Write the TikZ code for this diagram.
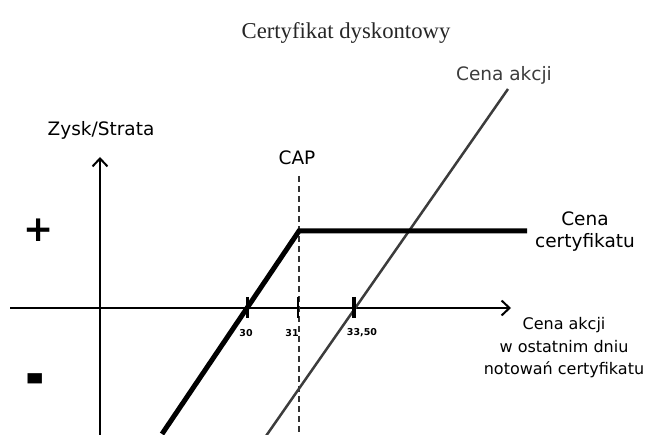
\documentclass[tikz,border=0pt]{standalone}
\usepackage{fontspec}
\usepackage{graphicx}
\setmainfont{Liberation Serif}
\newfontfamily\lab{DejaVu Sans}
\usetikzlibrary{arrows.meta}
\definecolor{stockgray}{HTML}{3C3C3C}
\begin{document}
\begin{tikzpicture}[x=1pt,y=-1pt,
  txt/.style={font=\lab\fontsize{18.5}{22}\selectfont, inner sep=0pt, align=center},
  small/.style={font=\lab\fontsize{16}{22.5}\selectfont, inner sep=0pt, align=center},
  ticklab/.style={font=\lab\bfseries\fontsize{9.5}{12}\selectfont, inner sep=0pt},
  sign/.style={font=\lab\bfseries\fontsize{36}{38}\selectfont, inner sep=0pt},
  axis/.style={line width=2pt, -{Straight Barb[length=8pt,width=15pt,line width=2pt]}},
  payoff/.style={line width=5pt, line join=miter},
  stock/.style={line width=2.5pt, draw=stockgray},
  capline/.style={line width=1.4pt, dash pattern=on 6pt off 4pt, draw=black!80},
  tick/.style={line width=3pt}]
\useasboundingbox (0,0) rectangle (648,435);
% title
\node[font=\fontsize{22.7}{26}\selectfont, text=black!85, inner sep=0pt] (title) at (346,33) {Certyfikat dyskontowy};
% axes
\coordinate (ybot) at (100,435);
\coordinate (ytop) at (100,157);
\coordinate (xl) at (10,308);
\coordinate (xr) at (511,308);
\draw[axis] (ybot) -- (ytop);
\draw[axis] (xl) -- (xr);
\node[txt] (zs) at (101,130) {Zysk/Strata};
\node[sign] (plus) at (39,230) {+};
\node[sign] (minus) at (35,387) {\scalebox{1.3}[2]{-}};
% CAP
\node[txt] (cap) at (297,158) {CAP};
\coordinate (captop) at (299,176);
\coordinate (capbot) at (299,435);
\draw[capline] (captop) -- (capbot);
% stock line
\coordinate (sbot) at (266,436);
\coordinate (stop) at (508,89);
\draw[stock] (sbot) -- (stop);
\node[txt, text=stockgray] (ca) at (504,75) {Cena akcji};
% payoff
\coordinate (pbot) at (162,434);
\coordinate (pk) at (299,231);
\coordinate (pr) at (527,231);
\draw[payoff] (pbot) -- (pk) -- (pr);
\node[txt] (cc) at (585,232) {Cena\\certyfikatu};
% ticks
\coordinate (t1a) at (247,297); \coordinate (t1b) at (247,318);
\coordinate (t2a) at (298,297); \coordinate (t2b) at (298,318);
\coordinate (t3a) at (354,297); \coordinate (t3b) at (354,318);
\draw[tick] (t1a) -- (t1b);
\draw[line width=2pt] (t2a) -- (t2b);
\draw[line width=4pt] (t3a) -- (t3b);
\node[ticklab] (l30) at (246,333) {30};
\node[ticklab] (l31) at (292,333) {31};
\node[ticklab] (l33) at (362,333) {33,50};
% x-axis label
\node[small] (xlab) at (564,348) {Cena akcji\\w ostatnim dniu\\notowań certyfikatu};
\end{tikzpicture}
\end{document}
